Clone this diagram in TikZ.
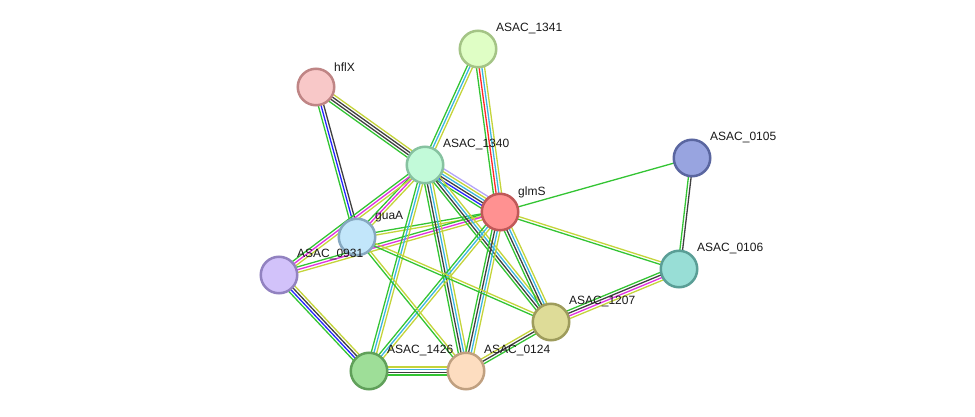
\documentclass[tikz,border=0pt]{standalone}
\usepackage{fontspec}
\setmainfont{Liberation Sans}
\usetikzlibrary{calc,backgrounds}
\definecolor{gn}{HTML}{33C433}
\definecolor{ye}{HTML}{C4D43A}
\definecolor{cy}{HTML}{3CB6E0}
\definecolor{bk}{HTML}{404040}
\definecolor{bl}{HTML}{2525FF}
\definecolor{mg}{HTML}{E030E0}
\definecolor{rd}{HTML}{FF2828}
\definecolor{lv}{HTML}{B4A4F8}
\tikzset{
  prot/.style={circle, minimum size=36.5pt, inner sep=0pt, line width=2.5pt},
  lab/.style={anchor=west, font=\fontsize{12pt}{14pt}\selectfont, text=black!90, inner sep=0pt},
  evid/.style={line width=1.3pt}
}
\newcommand\medge[3]{%
  \foreach \c [count=\i] in {#3} {\xdef\nn{\i}}%
  \foreach \c [count=\i] in {#3} {%
    \pgfmathsetmacro\off{(\i-(\nn+1)/2)*2.7}%
    \draw[evid, draw=\c] ($(#1)!\off pt!90:(#2)$) -- ($(#2)!\off pt!-90:(#1)$);
  }%
}
\newcommand\protnode[6]{%
  \definecolor{f#1}{HTML}{#4}\definecolor{d#1}{HTML}{#5}%
  \node[prot, fill=f#1, draw=d#1] (#1) at (#2,#3) {};
  \node[lab] (l#1) at ($(#1)+(18,-20)$) {#6};}
\begin{document}
\begin{tikzpicture}[x=1pt,y=-1pt]
\useasboundingbox (0,0) rectangle (975,417);
\protnode{n1341}{478}{49}{DFFEC5}{A4C486}{ASAC\_1341}
\protnode{hflX}{316}{87}{F8C8C8}{BF8585}{hflX}
\protnode{n1340}{425}{165}{C2FAD9}{86C2A0}{ASAC\_1340}
\protnode{glmS}{500}{212}{FF9191}{C05858}{glmS}
\protnode{n0105}{692}{158}{98A4E0}{5A66A0}{ASAC\_0105}
\protnode{guaA}{357}{237}{C2E6FA}{86A8C0}{guaA}
\protnode{n0931}{279}{275}{D2C2FA}{9282C0}{ASAC\_0931}
\protnode{n0106}{679}{269}{98DED6}{5A9E96}{ASAC\_0106}
\protnode{n1207}{551}{322}{DEDC98}{9E9C5C}{ASAC\_1207}
\protnode{n1426}{369}{371}{9EDE98}{60A05A}{ASAC\_1426}
\protnode{n0124}{466}{371}{FDDDC0}{C0A080}{ASAC\_0124}
\begin{scope}[on background layer]
\medge{n1341}{n1340}{gn,cy,ye}
\medge{n1341}{glmS}{gn,rd,cy,ye}
\medge{hflX}{n1340}{gn,bk,bk,ye}
\medge{hflX}{guaA}{gn,bl,bk}
\medge{n1340}{glmS}{gn,bl,bk,cy,ye,lv}
\medge{n1340}{guaA}{gn,mg,ye}
\medge{n1340}{n0931}{gn,mg,ye}
\medge{glmS}{guaA}{gn,ye}
\medge{glmS}{n0931}{gn,mg,ye}
\medge{n1340}{n1426}{gn,cy,ye}
\medge{n1340}{n0124}{gn,bk,cy,ye}
\medge{n1340}{n1207}{gn,bk,cy,ye}
\medge{glmS}{n1426}{gn,cy,ye}
\medge{glmS}{n0124}{gn,bk,cy,ye}
\medge{glmS}{n1207}{gn,bk,cy,ye}
\medge{glmS}{n0105}{gn}
\medge{glmS}{n0106}{gn,ye}
\medge{n0105}{n0106}{gn,bk}
\medge{n0106}{n1207}{gn,bk,mg,ye}
\medge{n0931}{n1426}{gn,bl,bk,ye}
\medge{n1426}{n0124}{gn,bk,cy,ye}
\medge{n0124}{n1207}{gn,bk,ye}
\medge{guaA}{n0124}{gn,ye}
\medge{guaA}{n1207}{gn,ye}
\end{scope}
\end{tikzpicture}
\end{document}
